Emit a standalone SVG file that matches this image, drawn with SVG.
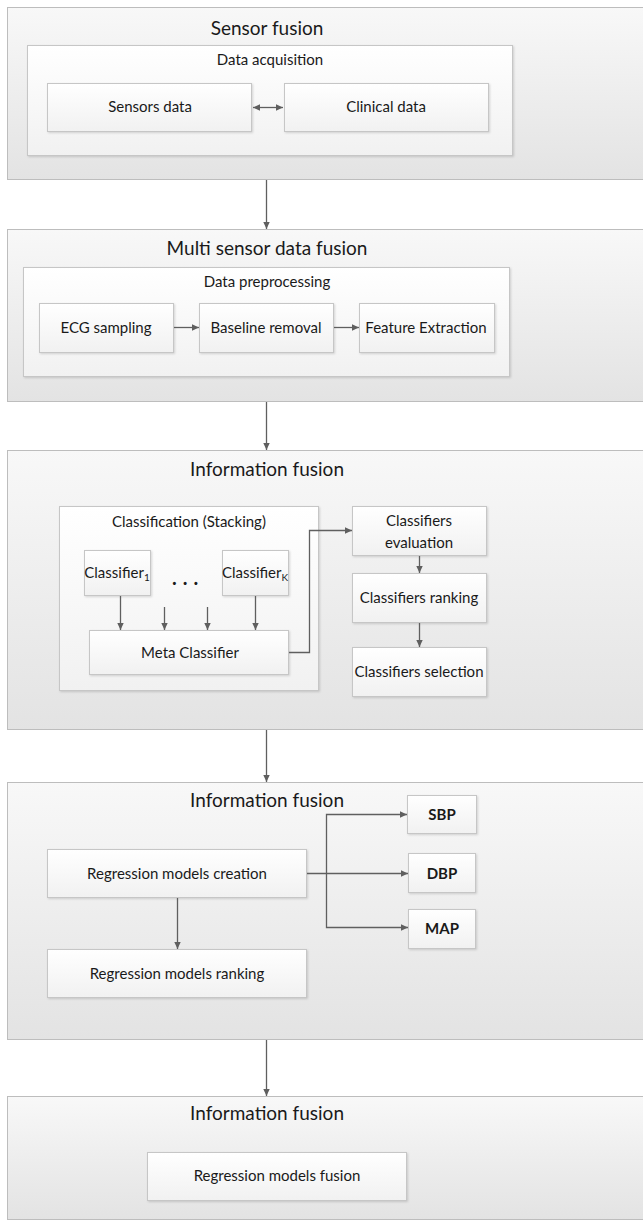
<svg xmlns="http://www.w3.org/2000/svg" width="643" height="1225" viewBox="0 0 643 1225">
<style>
.outer{fill:url(#gOuter);stroke:#bdbdbd;stroke-width:1}
.inner{fill:url(#gInner);stroke:#c6c6c6;stroke-width:1;filter:url(#sh)}
.t{font-family:Lato,"Open Sans",sans-serif;fill:#1a1a1a;text-anchor:middle}
.h{font-size:19px}
.s{font-size:15px}
.b{font-weight:bold}
.c{fill:none;stroke:#5f5f5f;stroke-width:1.3}
</style>
<defs>
<linearGradient id="gOuter" x1="0" y1="0" x2="0" y2="1">
<stop offset="0" stop-color="#f8f8f8"/><stop offset="1" stop-color="#e3e3e3"/>
</linearGradient>
<linearGradient id="gInner" x1="0" y1="0" x2="0" y2="1">
<stop offset="0" stop-color="#ffffff"/><stop offset="1" stop-color="#f1f1f1"/>
</linearGradient>
<filter id="sh" x="-5%" y="-5%" width="115%" height="120%">
<feDropShadow dx="1" dy="1" stdDeviation="0.8" flood-color="#000" flood-opacity="0.15"/>
</filter>
<marker id="ah" markerWidth="8" markerHeight="8" refX="7" refY="4" orient="auto-start-reverse" markerUnits="userSpaceOnUse">
<path d="M0,0.8 L7,4 L0,7.2 Z" fill="#5f5f5f"/>
</marker>
</defs>

<g id="sensor-fusion">
<rect class="outer" x="7.5" y="7.5" width="645" height="172"/>
<text class="t h" x="267" y="35">Sensor fusion</text>
<g id="data-acquisition">
<rect class="inner" x="27.5" y="45.5" width="485" height="110"/>
<text class="t s" x="270" y="65">Data acquisition</text>
</g>
<g id="sensors-data">
<rect class="inner" x="47.5" y="83.5" width="204" height="48"/>
<text class="t s" x="150" y="112">Sensors data</text>
</g>
<g id="clinical-data">
<rect class="inner" x="284.5" y="83.5" width="204" height="48"/>
<text class="t s" x="386" y="112">Clinical data</text>
</g>
</g>

<g id="multi-sensor">
<rect class="outer" x="7.5" y="229.5" width="645" height="172"/>
<text class="t h" x="267" y="255">Multi sensor data fusion</text>
<g id="data-preprocessing">
<rect class="inner" x="23.5" y="267.5" width="486" height="109"/>
<text class="t s" x="267" y="287">Data preprocessing</text>
</g>
<g id="ecg">
<rect class="inner" x="39.5" y="303.5" width="134" height="49"/>
<text class="t s" x="106" y="333">ECG sampling</text>
</g>
<g id="baseline">
<rect class="inner" x="199.5" y="303.5" width="134" height="49"/>
<text class="t s" x="266" y="333">Baseline removal</text>
</g>
<g id="feature">
<rect class="inner" x="359.5" y="303.5" width="135" height="49"/>
<text class="t s" x="426" y="333">Feature Extraction</text>
</g>
</g>

<g id="info-fusion-1">
<rect class="outer" x="7.5" y="450.5" width="645" height="279"/>
<text class="t h" x="267" y="476">Information fusion</text>
<g id="classification">
<rect class="inner" x="59.5" y="506.5" width="259" height="184"/>
<text class="t s" x="189" y="527">Classification (Stacking)</text>
</g>
<g id="classifier1">
<rect class="inner" x="84.5" y="550.5" width="66" height="45"/>
<text class="t s" x="117" y="578">Classifier<tspan font-size="10" dy="3">1</tspan></text>
</g>
<text class="t" x="188" y="585" font-size="20" font-weight="bold" letter-spacing="6">...</text>
<g id="classifierK">
<rect class="inner" x="222.5" y="550.5" width="66" height="45"/>
<text class="t s" x="255" y="578">Classifier<tspan font-size="10" dy="3">K</tspan></text>
</g>
<g id="meta">
<rect class="inner" x="89.5" y="630.5" width="199" height="44"/>
<text class="t s" x="190" y="658">Meta Classifier</text>
</g>
<g id="cl-eval">
<rect class="inner" x="352.5" y="506.5" width="134" height="49"/>
<text class="t s" x="419" y="526">Classifiers</text>
<text class="t s" x="419" y="548">evaluation</text>
</g>
<g id="cl-rank">
<rect class="inner" x="352.5" y="573.5" width="134" height="49"/>
<text class="t s" x="419" y="603">Classifiers ranking</text>
</g>
<g id="cl-sel">
<rect class="inner" x="352.5" y="647.5" width="134" height="49"/>
<text class="t s" x="419" y="677">Classifiers selection</text>
</g>
</g>

<g id="info-fusion-2">
<rect class="outer" x="7.5" y="782.5" width="645" height="257"/>
<text class="t h" x="267" y="807">Information fusion</text>
<g id="reg-create">
<rect class="inner" x="47.5" y="849.5" width="259" height="48"/>
<text class="t s" x="177" y="879">Regression models creation</text>
</g>
<g id="reg-rank">
<rect class="inner" x="47.5" y="949.5" width="259" height="48"/>
<text class="t s" x="177" y="979">Regression models ranking</text>
</g>
<g id="sbp">
<rect class="inner" x="407.5" y="795.5" width="69" height="38"/>
<text class="t s b" x="442" y="820">SBP</text>
</g>
<g id="dbp">
<rect class="inner" x="408.5" y="853.5" width="67" height="39"/>
<text class="t s b" x="442" y="879">DBP</text>
</g>
<g id="map">
<rect class="inner" x="408.5" y="909.5" width="67" height="39"/>
<text class="t s b" x="442" y="934">MAP</text>
</g>
</g>

<g id="info-fusion-3">
<rect class="outer" x="7.5" y="1096.5" width="645" height="123"/>
<text class="t h" x="267" y="1120">Information fusion</text>
<g id="reg-fusion">
<rect class="inner" x="147.5" y="1152.5" width="259" height="48"/>
<text class="t s" x="277" y="1181">Regression models fusion</text>
</g>
</g>

<g id="connectors">
<line class="c" x1="253" y1="107.5" x2="283" y2="107.5" marker-start="url(#ah)" marker-end="url(#ah)"/>
<line class="c" x1="266.5" y1="180" x2="266.5" y2="229" marker-end="url(#ah)"/>
<line class="c" x1="174" y1="327.5" x2="199" y2="327.5" marker-end="url(#ah)"/>
<line class="c" x1="334" y1="327.5" x2="359" y2="327.5" marker-end="url(#ah)"/>
<line class="c" x1="266.5" y1="402" x2="266.5" y2="450" marker-end="url(#ah)"/>
<line class="c" x1="120.5" y1="596" x2="120.5" y2="630" marker-end="url(#ah)"/>
<line class="c" x1="164.5" y1="607" x2="164.5" y2="630" marker-end="url(#ah)"/>
<line class="c" x1="207.5" y1="607" x2="207.5" y2="630" marker-end="url(#ah)"/>
<line class="c" x1="255.5" y1="596" x2="255.5" y2="630" marker-end="url(#ah)"/>
<polyline class="c" points="289,652.5 309.5,652.5 309.5,530.5 352,530.5" marker-end="url(#ah)"/>
<line class="c" x1="419.5" y1="556" x2="419.5" y2="573" marker-end="url(#ah)"/>
<line class="c" x1="419.5" y1="623" x2="419.5" y2="647" marker-end="url(#ah)"/>
<line class="c" x1="266.5" y1="730" x2="266.5" y2="782" marker-end="url(#ah)"/>
<line class="c" x1="177.5" y1="898" x2="177.5" y2="949" marker-end="url(#ah)"/>
<line class="c" x1="307" y1="873.5" x2="408" y2="873.5" marker-end="url(#ah)"/>
<polyline class="c" points="407,814.5 326.5,814.5 326.5,927.5 408,927.5" marker-start="url(#ah)" marker-end="url(#ah)"/>
<line class="c" x1="266.5" y1="1040" x2="266.5" y2="1096" marker-end="url(#ah)"/>
</g>
</svg>
